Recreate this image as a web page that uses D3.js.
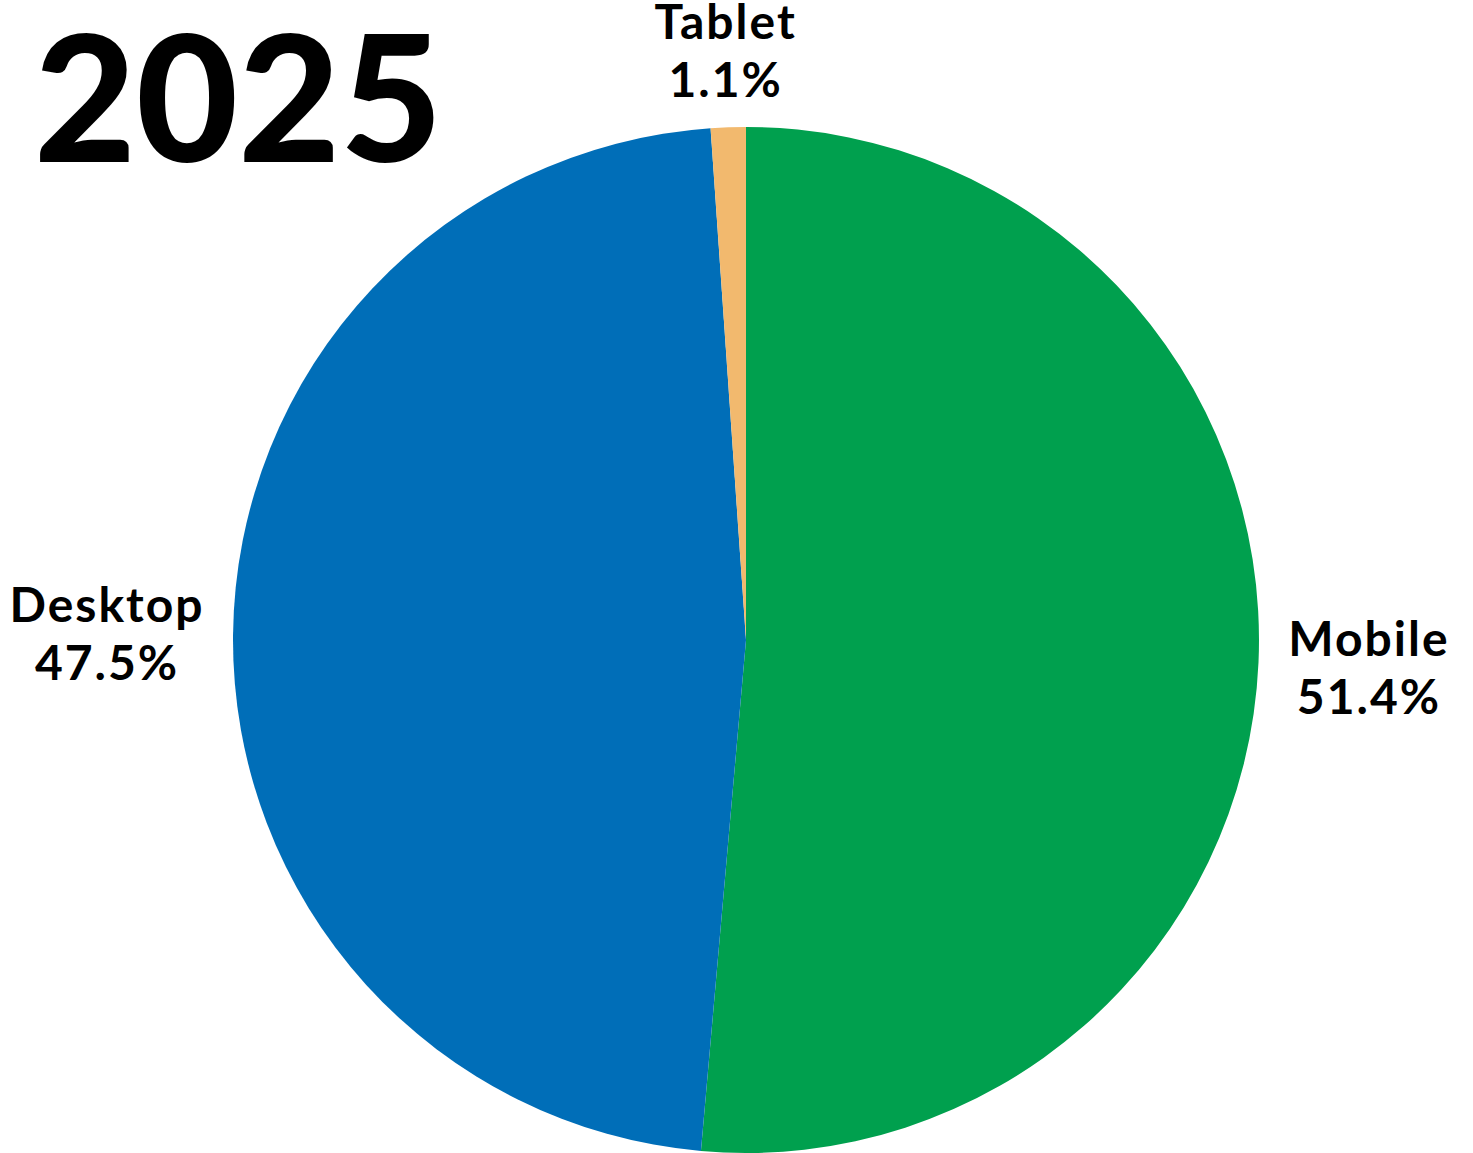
<!DOCTYPE html>
<html>
<head>
<meta charset="utf-8">
<script src="https://cdn.jsdelivr.net/npm/d3@7"></script>
<style>
  html, body { margin: 0; padding: 0; background: #fff; }
  svg { display: block; }
  .lbl { font-family: Lato, "Open Sans", sans-serif; font-weight: 700; font-size: 48px; letter-spacing: 2px; fill: #000; }
  .year { font-family: Lato, Inter, sans-serif; font-weight: 900; font-size: 176px; fill: #000; }
</style>
</head>
<body>
<svg id="chart" width="1473" height="1153"></svg>
<script>
const TITLE = '2025';
const categories = ['Mobile', 'Desktop', 'Tablet'];
const shares = [51.4, 47.5, 1.1];
const colors = ['#00A04E', '#006EB8', '#F2B96E'];

const RADIUS = 513;
const CX = 746, CY = 640;
const LABEL_GAP = 28;
const LINE_STEP = 58;   // baseline to baseline
const CAP = 35;         // cap height of label font

const svg = d3.select('#chart');

svg.append('text')
  .attr('class', 'year')
  .attr('x', 34)
  .attr('y', 162)
  .text(TITLE);

const pie = d3.pie().value(d => d).sort(null);
const arcs = pie(shares);
const color = d3.scaleOrdinal().domain(categories).range(colors);
const arc = d3.arc().innerRadius(0).outerRadius(RADIUS);

const g = svg.append('g').attr('transform', `translate(${CX},${CY})`);

g.selectAll('path')
  .data(arcs)
  .join('path')
    .attr('d', arc)
    .attr('fill', (d, i) => color(categories[i]));

// outside labels; the visible box (cap top to last baseline) clears the rim
const labels = g.selectAll('g.label')
  .data(arcs)
  .join('g')
    .attr('class', 'label');

labels.each(function(d, i) {
  const el = d3.select(this);
  const t = el.append('text').attr('class', 'lbl').attr('text-anchor', 'middle');
  t.append('tspan').attr('x', 0).attr('y', 0).text(categories[i]);
  t.append('tspan').attr('x', 0).attr('y', LINE_STEP).text(`${shares[i].toFixed(1)}%`);
  const bb = t.node().getBBox();
  const boxH = CAP + LINE_STEP;
  const mid = (d.startAngle + d.endAngle) / 2;
  const dx = Math.sin(mid), dy = -Math.cos(mid);
  const dist = RADIUS + LABEL_GAP + Math.abs(dx) * bb.width / 2 + Math.abs(dy) * boxH / 2;
  const ox = dx * dist - (bb.x + bb.width / 2);
  const oy = dy * dist - (-CAP + boxH / 2);
  el.attr('transform', `translate(${ox},${oy})`);
});
</script>
</body>
</html>
